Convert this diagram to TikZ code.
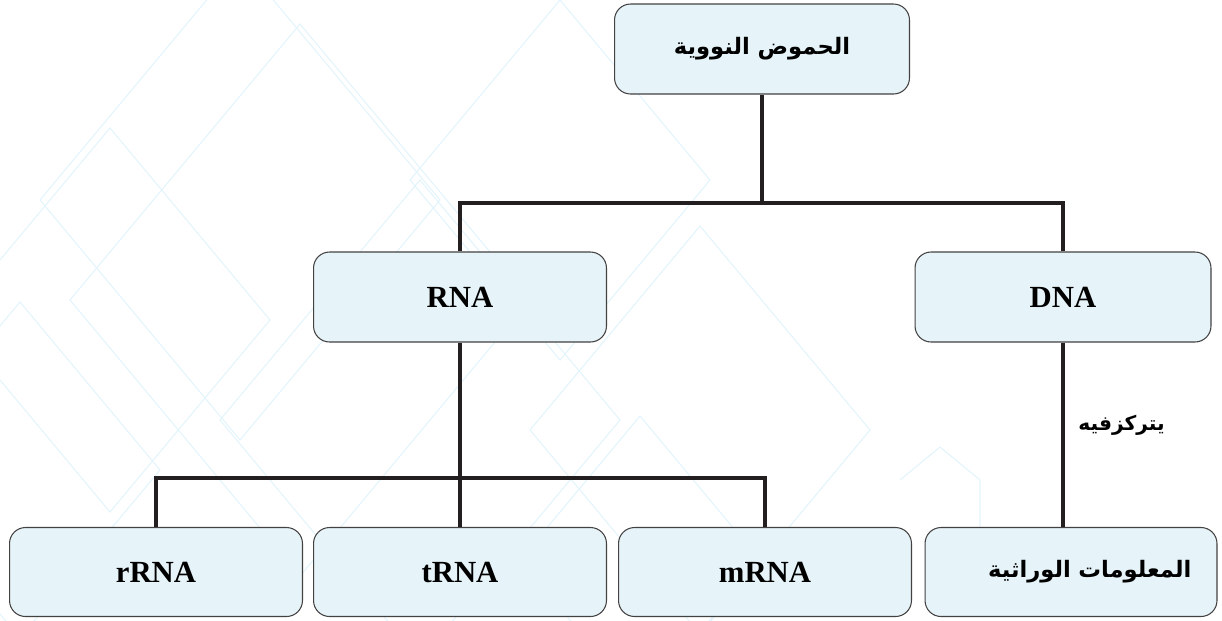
\documentclass[tikz,border=0pt]{standalone}
\usepackage{fontspec}
\setmainfont{Liberation Serif}
\newfontfamily\arabicfont[Script=Arabic]{DejaVu Sans}
\TeXXeTstate=1
\definecolor{boxblue}{RGB}{230,244,249}
\definecolor{pattern}{RGB}{226,244,251}
\definecolor{lineblack}{RGB}{35,31,32}
\tikzset{
  box/.style={draw=lineblack!85, line width=0.6pt, fill=boxblue, rounded corners=0.32cm,
    minimum width=5.86cm, minimum height=1.8cm, inner sep=0pt, font=\fontsize{17.5}{20}\selectfont\bfseries},
  arbox/.style={box, font=\fontsize{12.9}{15}\selectfont\bfseries},
  conn/.style={draw=lineblack, line width=1.8pt, line join=miter},
  deco/.style={draw=pattern, line width=0.6pt},
  lbl/.style={font=\fontsize{11.5}{14}\selectfont\bfseries, inner sep=0pt}
}
\newcommand{\ar}[1]{{\arabicfont\bfseries\beginR #1\endR}}
\begin{document}
\begin{tikzpicture}[x=0.02cm,y=-0.02cm]
\useasboundingbox (0,0) rectangle (1222,620);
% background pattern
\begin{scope}
\clip (0,0) rectangle (1222,620);
\foreach \cx/\cy/\w in {240/200/200, 300/300/230, 420/420/200, 110/320/160, 560/180/150, 700/430/170, 20/470/140, 640/560/120}{
  \draw[deco] (\cx-\w,\cy) -- (\cx,\cy-1.2*\w) -- (\cx+\w,\cy) -- (\cx,\cy+1.2*\w) -- cycle;
}
\draw[deco] (940,447) -- (980,480) -- (980,530);
\draw[deco] (940,447) -- (900,480);
\end{scope}
% nodes
\node[arbox, minimum width=5.9cm] (top) at (762,49) {\ar{الحموض النووية}};
\node[box] (rna) at (460,297) {RNA};
\node[box, minimum width=5.92cm] (dna) at (1063,297) {DNA};
\node[box, minimum height=1.78cm] (rrna) at (156,572) {rRNA};
\node[box, minimum height=1.78cm] (trna) at (460,572) {tRNA};
\node[box, minimum height=1.78cm] (mrna) at (765,572) {mRNA};
\node[arbox, minimum height=1.78cm, minimum width=5.84cm, text width=5.84cm, align=center] (info) at (1071,572) {\hspace*{0.75cm}\ar{المعلومات الوراثية}};
% junctions
\coordinate (bus1) at (762,203);
\coordinate (bus2) at (460,478);
% connectors
\draw[conn] (top.south) -- (bus1);
\draw[conn] (rna.north) |- (bus1);
\draw[conn] (dna.north) |- (bus1);
\draw[conn] (rna.south) -- (trna.north);
\draw[conn] (rrna.north) |- (bus2);
\draw[conn] (mrna.north) |- (bus2);
\coordinate (infotop) at (dna.south |- info.north);
\draw[conn] (dna.south) -- (infotop);
\node[lbl, anchor=west] (lab) at (1078,425) {\ar{يتركزفيه}};
\end{tikzpicture}
\end{document}
